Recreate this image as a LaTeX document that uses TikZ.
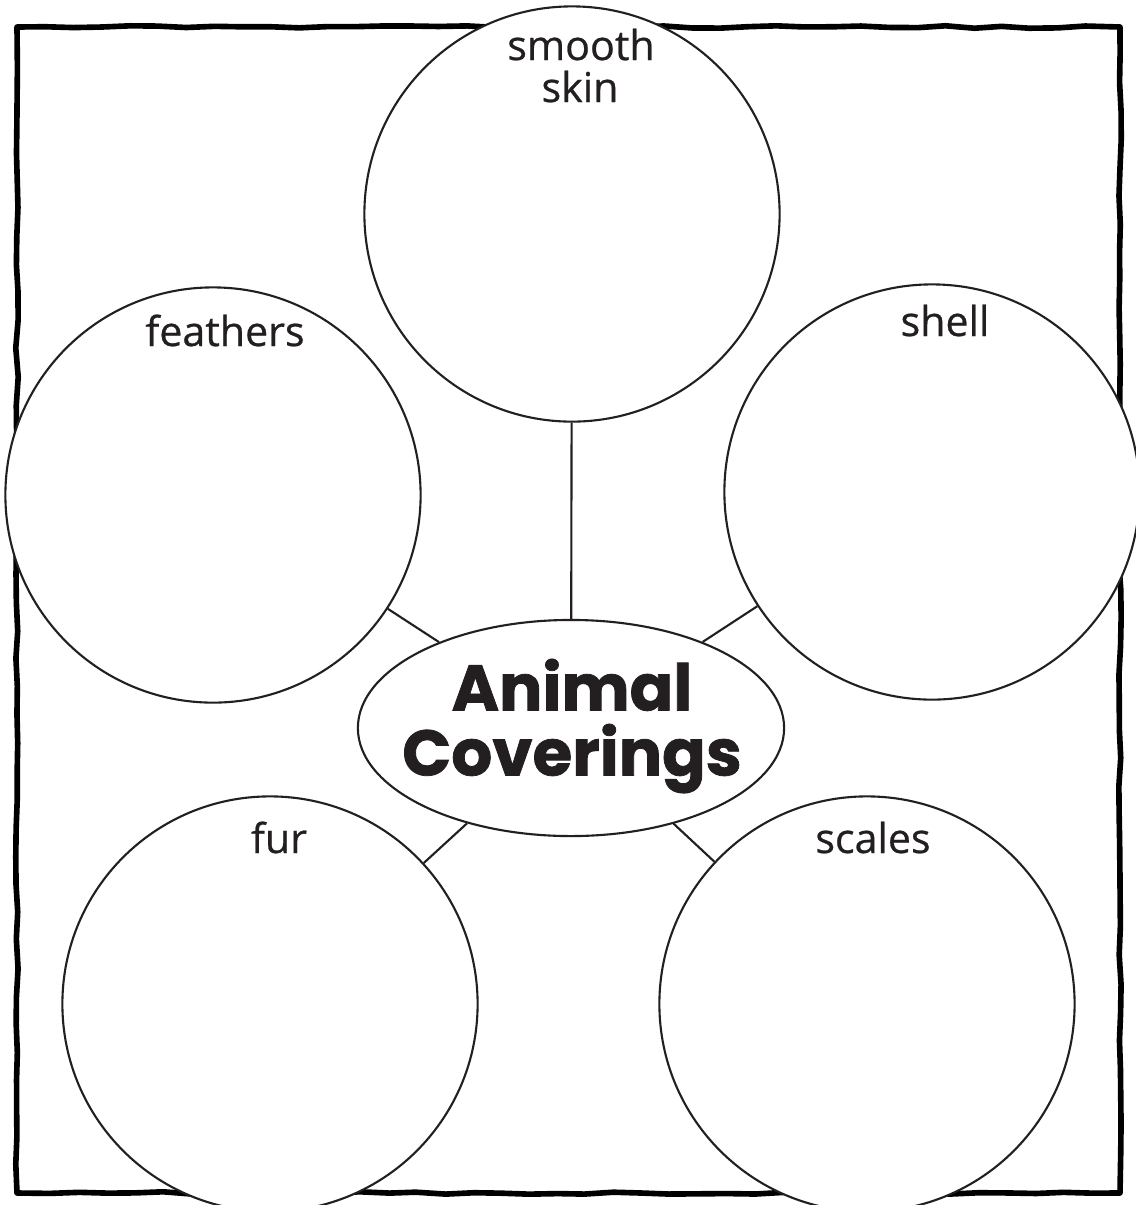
\documentclass[tikz,border=0pt]{standalone}
\usepackage{fontspec}
\newfontfamily\labelfont{Open Sans}[FakeBold=0.6]
\newfontfamily\hubfont{Poppins}[BoldFeatures={FakeBold=1.2}]
\usetikzlibrary{shapes.geometric, decorations.pathmorphing, positioning, calc}
\definecolor{inkblack}{HTML}{231F20}
\pgfmathsetseed{7}

\begin{document}
\begin{tikzpicture}[x=0.01cm, y=-0.01cm,
  bubble/.style={draw=inkblack, fill=white, circle, line width=0.6pt, minimum size=4.15cm, inner sep=0pt},
  hub/.style={draw=inkblack, fill=white, ellipse, line width=0.6pt, minimum width=4.26cm, minimum height=2.16cm, inner sep=0pt},
  hubtext/.style={text=inkblack, align=center, inner sep=0pt, font=\hubfont\bfseries\fontsize{18.3}{18.5}\selectfont},
  lbl/.style={text=inkblack, anchor=base, inner sep=0pt, font=\labelfont\fontsize{11.7}{13.5}\selectfont},
  spoke/.style={inkblack, line width=0.6pt},
  frame/.style={black, line width=1.6pt, line join=round,
    decorate, decoration={random steps, segment length=8pt, amplitude=0.35pt}}]

\useasboundingbox (0,0) rectangle (1135,1205);
\fill[white] (0,0) rectangle (1135,1205);

% Hand-drawn frame behind the bubbles
\coordinate (fnw) at (17,27);
\coordinate (fne) at (1120,27);
\coordinate (fse) at (1120,1193);
\coordinate (fsw) at (17,1193);
\begin{scope}[x=1cm, y=1cm]
  \draw[frame] (fnw) -- (fne) -- (fse) -- (fsw) -- cycle;
\end{scope}

% Bubbles
\node[bubble] (skin) at (572,214) {};
\node[bubble] (feathers) at (213,495) {};
\node[bubble] (shell) at (932,492) {};
\node[bubble] (fur) at (270,1004) {};
\node[bubble] (scales) at (867,1004) {};

% Centre ellipse
\node[hub] (hub) at (571,728) {};
\node[hubtext] (hubtitle) at (572,726) {Animal\\Coverings};

% Spokes
\foreach \b in {skin, feathers, shell, fur, scales}
  \draw[spoke] (\b) -- (hub);

% Labels
\node[lbl] (skinlbl) at (581,60) {smooth};
\node[lbl] (skinlbl2) at (580,102) {skin};
\node[lbl] (featherslbl) at (225,346) {feathers};
\node[lbl] (shelllbl) at (945,336) {shell};
\node[lbl] (furlbl) at (279,853) {fur};
\node[lbl] (scaleslbl) at (873,853) {scales};

\end{tikzpicture}
\end{document}
